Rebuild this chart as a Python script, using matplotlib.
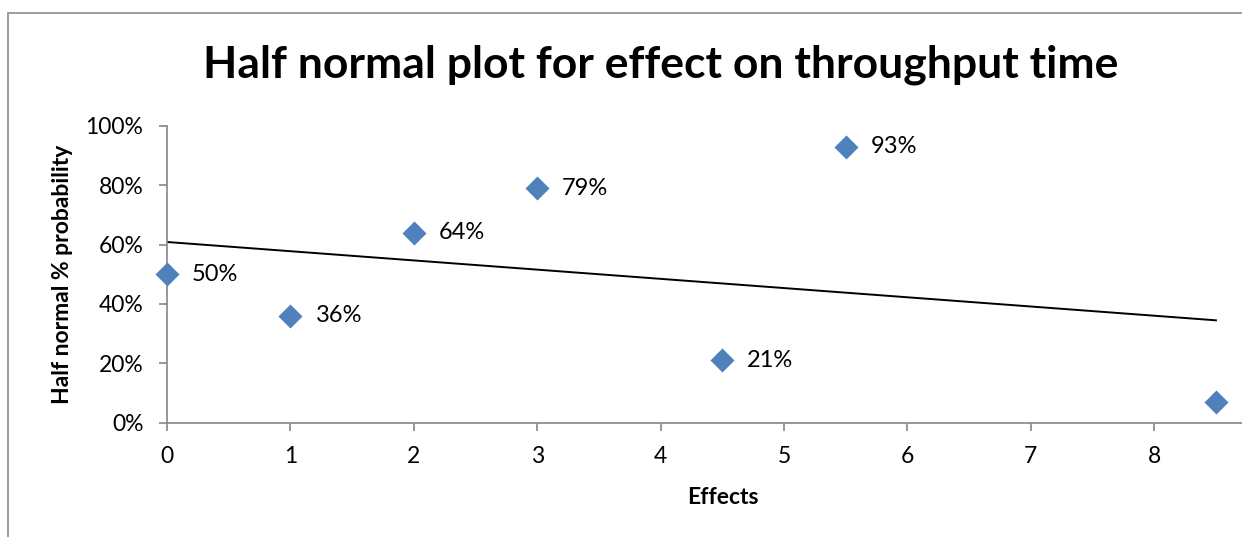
import matplotlib.pyplot as plt
from matplotlib.patches import Rectangle
from matplotlib.ticker import PercentFormatter, MultipleLocator
import numpy as np

# effects and their half normal probabilities
effects = [0, 1, 2, 3, 4.5, 5.5, 8.5]
probability = [0.50, 0.36, 0.64, 0.79, 0.21, 0.93, 0.07]
point_labels = ["50%", "36%", "64%", "79%", "21%", "93%", ""]
x_ticks = [0, 1, 2, 3, 4, 5, 6, 7, 8]

plt.rcParams['font.family'] = ['Lato', 'DejaVu Sans']

fig = plt.figure(figsize=(12.42, 5.37), dpi=100)

# outer chart border (cut off at the right and bottom like the screenshot)
fig.patches.append(Rectangle((8 / 1242, -0.2), 1.5, 1.2 - 12.5 / 537,
                             transform=fig.transFigure, fill=False,
                             edgecolor='#8c8c8c', linewidth=1.2))

ax = fig.add_axes([0.1345, 0.2132, 0.8942, 0.5522])

ax.scatter(effects, probability, marker='D', s=150, color='#4f81bd',
           zorder=3, linewidths=0, clip_on=False)

# linear trendline
slope, intercept = np.polyfit(effects, probability, 1)
xs = np.array([min(effects), max(effects)])
ax.plot(xs, slope * xs + intercept, color='black', linewidth=1.4, zorder=2)

for x, y, lab in zip(effects, probability, point_labels):
    ax.annotate(lab, (x, y), xytext=(18, 0), textcoords='offset points',
                va='center', ha='left', fontsize=17)

ax.set_xlim(0, 9)
ax.set_ylim(0, 1)
ax.set_xticks(x_ticks)
ax.yaxis.set_major_locator(MultipleLocator(0.2))
ax.yaxis.set_major_formatter(PercentFormatter(1.0, decimals=0))

for side in ['top', 'right']:
    ax.spines[side].set_visible(False)
for side in ['left', 'bottom']:
    ax.spines[side].set_color('#868686')
    ax.spines[side].set_linewidth(1.2)
ax.tick_params(direction='out', length=6, width=1.2, color='#868686',
               labelsize=16.5)
ax.tick_params(axis='x', pad=11)
ax.tick_params(axis='y', pad=11)

fig.text(0.532, 0.879, "Half normal plot for effect on throughput time",
         ha='center', va='center', fontsize=32, fontweight='bold')
fig.text(0.582, 0.074, "Effects", ha='center', va='center',
         fontsize=16.5, fontweight='bold')
fig.text(0.050, 0.4894, "Half normal % probability", ha='center', va='center',
         rotation=90, fontsize=16.5, fontweight='bold')

fig.savefig("out.png", dpi=100)
